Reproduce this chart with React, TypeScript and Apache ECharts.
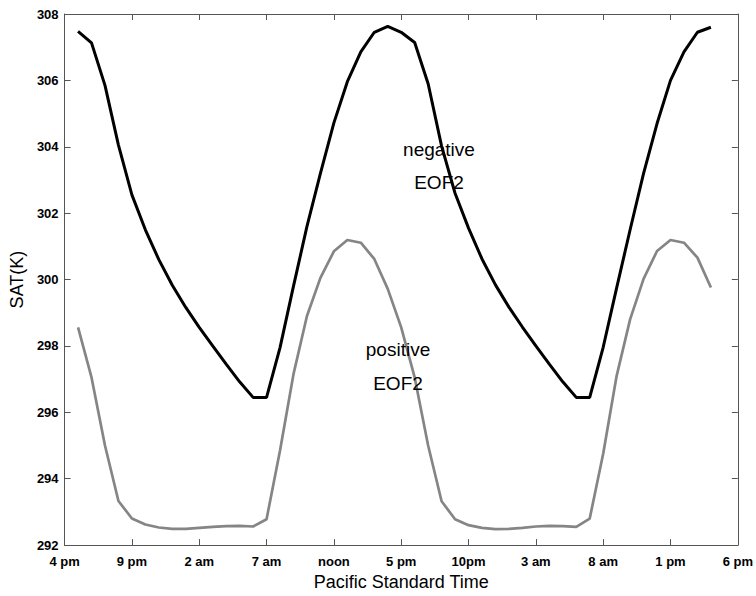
import React, { useEffect, useRef } from 'react';
import * as echarts from 'echarts';

const xTickLabels = ['4 pm', '9 pm', '2 am', '7 am', 'noon', '5 pm', '10pm', '3 am', '8 am', '1 pm', '6 pm'];

const hours = [
  1, 2, 3, 4, 5, 6, 7, 8, 9, 10, 11, 12, 13, 14, 15, 16, 17, 18, 19, 20, 21, 22, 23, 24,
  25, 26, 27, 28, 29, 30, 31, 32, 33, 34, 35, 36, 37, 38, 39, 40, 41, 42, 43, 44, 45, 46, 47, 48,
];

const negativeEOF2 = [
  307.48, 307.13, 305.85, 304.05, 302.55, 301.5, 300.6, 299.83, 299.16, 298.56, 298.0, 297.45,
  296.92, 296.45, 296.45, 297.95, 299.8, 301.6, 303.2, 304.72, 305.96, 306.86, 307.45, 307.63,
  307.45, 307.14, 305.9, 304.02, 302.6, 301.55, 300.62, 299.84, 299.17, 298.57, 298.0, 297.45,
  296.92, 296.45, 296.45, 297.96, 299.75, 301.5, 303.2, 304.7, 306.0, 306.86, 307.45, 307.6,
];

const positiveEOF2 = [
  298.56, 297.05, 295.0, 293.33, 292.8, 292.62, 292.53, 292.49, 292.49, 292.52, 292.55, 292.57,
  292.58, 292.56, 292.78, 294.85, 297.15, 298.9, 300.05, 300.85, 301.19, 301.11, 300.62, 299.72,
  298.56, 297.05, 295.0, 293.32, 292.78, 292.6, 292.52, 292.48, 292.49, 292.52, 292.56, 292.58,
  292.57, 292.55, 292.8, 294.75, 297.1, 298.8, 300.02, 300.86, 301.19, 301.11, 300.66, 299.76,
];

const annotations = [
  { text: 'negative', x: 439, y: 149 },
  { text: 'EOF2', x: 439, y: 182 },
  { text: 'positive', x: 398, y: 349 },
  { text: 'EOF2', x: 398, y: 383 },
];

const FONT = '"Liberation Sans", Arial, Helvetica, sans-serif';
const AXIS_COLOR = '#555';

export default function App() {
  const ref = useRef<HTMLDivElement>(null);

  useEffect(() => {
    if (!ref.current) return;
    const chart = echarts.init(ref.current, undefined, { renderer: 'svg' });

    const negData = hours.map((h, i) => [h, negativeEOF2[i]]);
    const posData = hours.map((h, i) => [h, positiveEOF2[i]]);

    const tickCommon = { show: true, inside: true, length: 6, lineStyle: { color: AXIS_COLOR, width: 1 } };
    const lineCommon = { show: true, onZero: false, lineStyle: { color: AXIS_COLOR, width: 1 } };

    chart.setOption({
      animation: false,
      backgroundColor: '#fff',
      grid: { left: 61, right: 18, top: 14, bottom: 49, containLabel: false },
      xAxis: [
        {
          type: 'value',
          position: 'bottom',
          min: 0,
          max: 50,
          interval: 5,
          axisLine: lineCommon,
          axisTick: tickCommon,
          splitLine: { show: false },
          axisLabel: {
            show: true,
            margin: 10,
            color: '#000',
            fontFamily: FONT,
            fontWeight: 'bold',
            fontSize: 13,
            formatter: (v: number) => xTickLabels[Math.round(v / 5)] ?? '',
          },
          name: 'Pacific Standard Time',
          nameLocation: 'middle',
          nameGap: 26,
          nameTextStyle: { color: '#000', fontFamily: FONT, fontSize: 18 },
        },
        {
          type: 'value',
          position: 'top',
          min: 0,
          max: 50,
          interval: 5,
          axisLine: lineCommon,
          axisTick: tickCommon,
          splitLine: { show: false },
          axisLabel: { show: false },
        },
      ],
      yAxis: [
        {
          type: 'value',
          position: 'left',
          min: 292,
          max: 308,
          interval: 2,
          axisLine: lineCommon,
          axisTick: tickCommon,
          splitLine: { show: false },
          axisLabel: {
            show: true,
            margin: 6,
            color: '#000',
            fontFamily: FONT,
            fontWeight: 'bold',
            fontSize: 13,
          },
          name: 'SAT(K)',
          nameLocation: 'middle',
          nameGap: 29,
          nameTextStyle: { color: '#000', fontFamily: FONT, fontSize: 18 },
        },
        {
          type: 'value',
          position: 'right',
          min: 292,
          max: 308,
          interval: 2,
          axisLine: lineCommon,
          axisTick: tickCommon,
          splitLine: { show: false },
          axisLabel: { show: false },
        },
      ],
      series: [
        {
          type: 'line',
          name: 'positive EOF2',
          xAxisIndex: 0,
          yAxisIndex: 0,
          data: posData,
          showSymbol: false,
          symbol: 'none',
          lineStyle: { color: '#858585', width: 2.7 },
          silent: true,
        },
        {
          type: 'line',
          name: 'negative EOF2',
          xAxisIndex: 0,
          yAxisIndex: 0,
          data: negData,
          showSymbol: false,
          symbol: 'none',
          lineStyle: { color: '#000', width: 3 },
          silent: true,
        },
      ],
      graphic: annotations.map((a) => ({
        type: 'text',
        x: a.x,
        y: a.y,
        silent: true,
        z: 100,
        style: {
          text: a.text,
          fill: '#000',
          font: `19px ${FONT}`,
          textAlign: 'center',
          textVerticalAlign: 'middle',
          align: 'center',
          verticalAlign: 'middle',
        },
      })),
    });

    return () => {
      chart.dispose();
    };
  }, []);

  return (
    <div
      ref={ref}
      style={{ position: 'fixed', left: 0, top: 0, width: 756, height: 596, background: '#fff' }}
    />
  );
}
